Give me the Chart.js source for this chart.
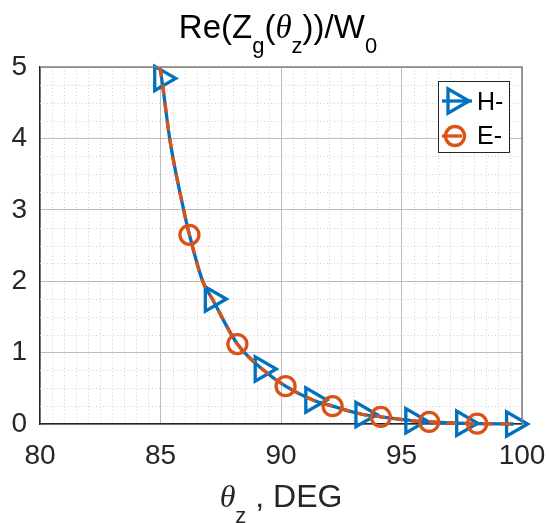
<!DOCTYPE html>
<html>
<head>
<meta charset="utf-8">
<script src="https://cdn.jsdelivr.net/npm/chart.js@4.4.1/dist/chart.umd.min.js"></script>
<style>
  body { margin: 0; background: #fff; }
  #wrap { width: 549px; height: 523px; }
</style>
</head>
<body>
<div id="wrap"><canvas id="reChart" width="549" height="523"></canvas></div>
<script>
// curve (theta in degrees, Re(Zg)/W0)
const thetaCurve = [84.97, 85.05, 85.38, 85.96, 86.2, 86.75, 87.15, 88.19, 89.22, 90.19, 91.32, 92.14, 93.4, 94.14, 95.47, 96.15, 97.58, 98.14, 99.65];
const reCurve    = [5.0, 4.84, 4.0, 3.0, 2.65, 2.0, 1.75, 1.12, 0.77, 0.53, 0.336, 0.25, 0.133, 0.10, 0.045, 0.03, 0.01, 0.005, 0.0];

// where each series puts its markers
const hMarkerTheta = [85.05, 87.15, 89.22, 91.32, 93.4, 95.47, 97.58, 99.65];
const eMarkerTheta = [86.2, 88.19, 90.19, 92.14, 94.14, 96.15, 98.14];

const xTicks = [80, 85, 90, 95, 100];
const yTicks = [0, 1, 2, 3, 4, 5];

const BLUE = '#0072BD';
const ORANGE = '#D95319';
const AXIS = '#262626';
const FONT = "'Liberation Sans', Arial, sans-serif";
const LW = 3.3;

const curvePoints = thetaCurve.map((t, i) => ({ x: t, y: reCurve[i] }));

function markerRadius(list, r) {
    return ctx => list.includes(ctx.raw.x) ? r : 0;
}

// rich text: pieces with own font and vertical shift
function drawRich(ctx, parts, cx, baseY, color) {
    let total = 0;
    parts.forEach(p => {
        ctx.font = p.font;
        p.w = ctx.measureText(p.t).width;
        total += p.w;
    });
    let x = cx - total / 2;
    ctx.fillStyle = color;
    ctx.textAlign = 'left';
    ctx.textBaseline = 'alphabetic';
    parts.forEach(p => {
        ctx.font = p.font;
        ctx.fillText(p.t, x, baseY + (p.dy || 0));
        x += p.w;
    });
}

function triangleRight(ctx, x, y, r) {
    ctx.beginPath();
    for (let k = 0; k < 3; k++) {
        const a = k * 2 * Math.PI / 3;
        const px = x + Math.cos(a) * r;
        const py = y + Math.sin(a) * r;
        if (k === 0) ctx.moveTo(px, py); else ctx.lineTo(px, py);
    }
    ctx.closePath();
    ctx.stroke();
}

const matlabDecor = {
    id: 'matlabDecor',
    beforeDatasetsDraw(chart) {
        const { ctx, chartArea: a, scales } = chart;
        ctx.save();
        ctx.strokeStyle = '#cfcfcf';
        ctx.lineWidth = 1;
        ctx.setLineDash([1, 2.5]);
        for (let v = 80.5; v < 100; v += 0.5) {
            if (Math.abs(v % 5) < 1e-6) continue;
            const px = Math.round(scales.x.getPixelForValue(v)) + 0.5;
            ctx.beginPath(); ctx.moveTo(px, a.top); ctx.lineTo(px, a.bottom); ctx.stroke();
        }
        for (let v = 0.25; v < 5; v += 0.25) {
            if (Math.abs(v % 1) < 1e-6) continue;
            const py = Math.round(scales.y.getPixelForValue(v)) + 0.5;
            ctx.beginPath(); ctx.moveTo(a.left, py); ctx.lineTo(a.right, py); ctx.stroke();
        }
        ctx.restore();
    },
    afterDraw(chart) {
        const { ctx, chartArea: a } = chart;
        ctx.save();
        // top and right edges of the box
        ctx.strokeStyle = '#808080';
        ctx.lineWidth = 1.5;
        ctx.beginPath();
        ctx.moveTo(a.left, a.top); ctx.lineTo(a.right, a.top); ctx.lineTo(a.right, a.bottom);
        ctx.stroke();

        // legend
        const lx = 438, ly = 81, lw = 71, lh = 71;
        ctx.fillStyle = '#fff';
        ctx.fillRect(lx, ly, lw, lh);
        ctx.strokeStyle = AXIS;
        ctx.lineWidth = 1;
        ctx.strokeRect(lx + 0.5, ly + 0.5, lw, lh);

        ctx.lineWidth = LW;
        ctx.strokeStyle = BLUE;
        ctx.beginPath(); ctx.moveTo(442, 101); ctx.lineTo(472, 101); ctx.stroke();
        triangleRight(ctx, 455, 101, 14);

        ctx.strokeStyle = ORANGE;
        ctx.beginPath(); ctx.moveTo(442, 136); ctx.lineTo(462, 136); ctx.stroke();
        ctx.beginPath(); ctx.arc(455, 136, 9.5, 0, Math.PI * 2); ctx.stroke();

        ctx.fillStyle = '#000';
        ctx.font = `25px ${FONT}`;
        ctx.textAlign = 'left';
        ctx.textBaseline = 'alphabetic';
        ctx.fillText('H-', 477, 110);
        ctx.fillText('E-', 477, 144);

        // title
        const cx = (a.left + a.right) / 2;
        drawRich(ctx, [
            { t: 'Re(Z', font: `33px ${FONT}` },
            { t: 'g', font: `22px ${FONT}`, dy: 15 },
            { t: '(', font: `33px ${FONT}` },
            { t: 'θ', font: `italic 33px 'Liberation Serif', serif` },
            { t: 'z', font: `22px ${FONT}`, dy: 15 },
            { t: '))/W', font: `33px ${FONT}` },
            { t: '0', font: `22px ${FONT}`, dy: 15 }
        ], cx - 3, 38, '#000');

        // x axis label
        drawRich(ctx, [
            { t: 'θ', font: `italic 32px 'Liberation Serif', serif` },
            { t: 'z', font: `22px ${FONT}`, dy: 16 },
            { t: ' , DEG', font: `32px ${FONT}` }
        ], cx, 507, AXIS);
        ctx.restore();
    }
};

new Chart(document.getElementById('reChart'), {
    type: 'line',
    data: {
        datasets: [
            {
                label: 'H-',
                data: curvePoints,
                borderColor: BLUE,
                borderWidth: LW,
                cubicInterpolationMode: 'monotone',
                clip: false,
                pointStyle: 'triangle',
                rotation: 90,
                radius: markerRadius(hMarkerTheta, 14),
                pointBorderColor: BLUE,
                pointBackgroundColor: 'rgba(0,0,0,0)',
                pointBorderWidth: LW,
                order: 1
            },
            {
                label: 'E-',
                data: curvePoints,
                borderColor: ORANGE,
                borderWidth: LW,
                borderDash: [10, 8],
                cubicInterpolationMode: 'monotone',
                clip: false,
                pointStyle: 'circle',
                radius: markerRadius(eMarkerTheta, 9.5),
                pointBorderColor: ORANGE,
                pointBackgroundColor: 'rgba(0,0,0,0)',
                pointBorderWidth: LW,
                order: 0
            }
        ]
    },
    options: {
        responsive: false,
        animation: false,
        layout: { padding: { left: 0, right: 27, top: 67, bottom: 0 } },
        plugins: {
            legend: { display: false },
            tooltip: { enabled: false },
            title: { display: false }
        },
        scales: {
            x: {
                type: 'linear',
                min: 80,
                max: 100,
                afterFit: s => { s.height = 99; s.paddingLeft = 0; s.paddingRight = 0; },
                afterBuildTicks: s => { s.ticks = xTicks.map(v => ({ value: v })); },
                ticks: { color: AXIS, padding: 15, maxRotation: 0, font: { family: FONT, size: 28 } },
                grid: { color: '#bdbdbd', lineWidth: 1, drawTicks: false },
                border: { color: AXIS, width: 1.5 }
            },
            y: {
                min: 0,
                max: 5,
                afterFit: s => { s.width = 40; s.paddingTop = 0; s.paddingBottom = 0; },
                afterBuildTicks: s => { s.ticks = yTicks.map(v => ({ value: v })); },
                ticks: { color: AXIS, padding: 13, font: { family: FONT, size: 28 } },
                grid: { color: '#bdbdbd', lineWidth: 1, drawTicks: false },
                border: { color: AXIS, width: 1.5 }
            }
        }
    },
    plugins: [matlabDecor]
});
</script>
</body>
</html>
